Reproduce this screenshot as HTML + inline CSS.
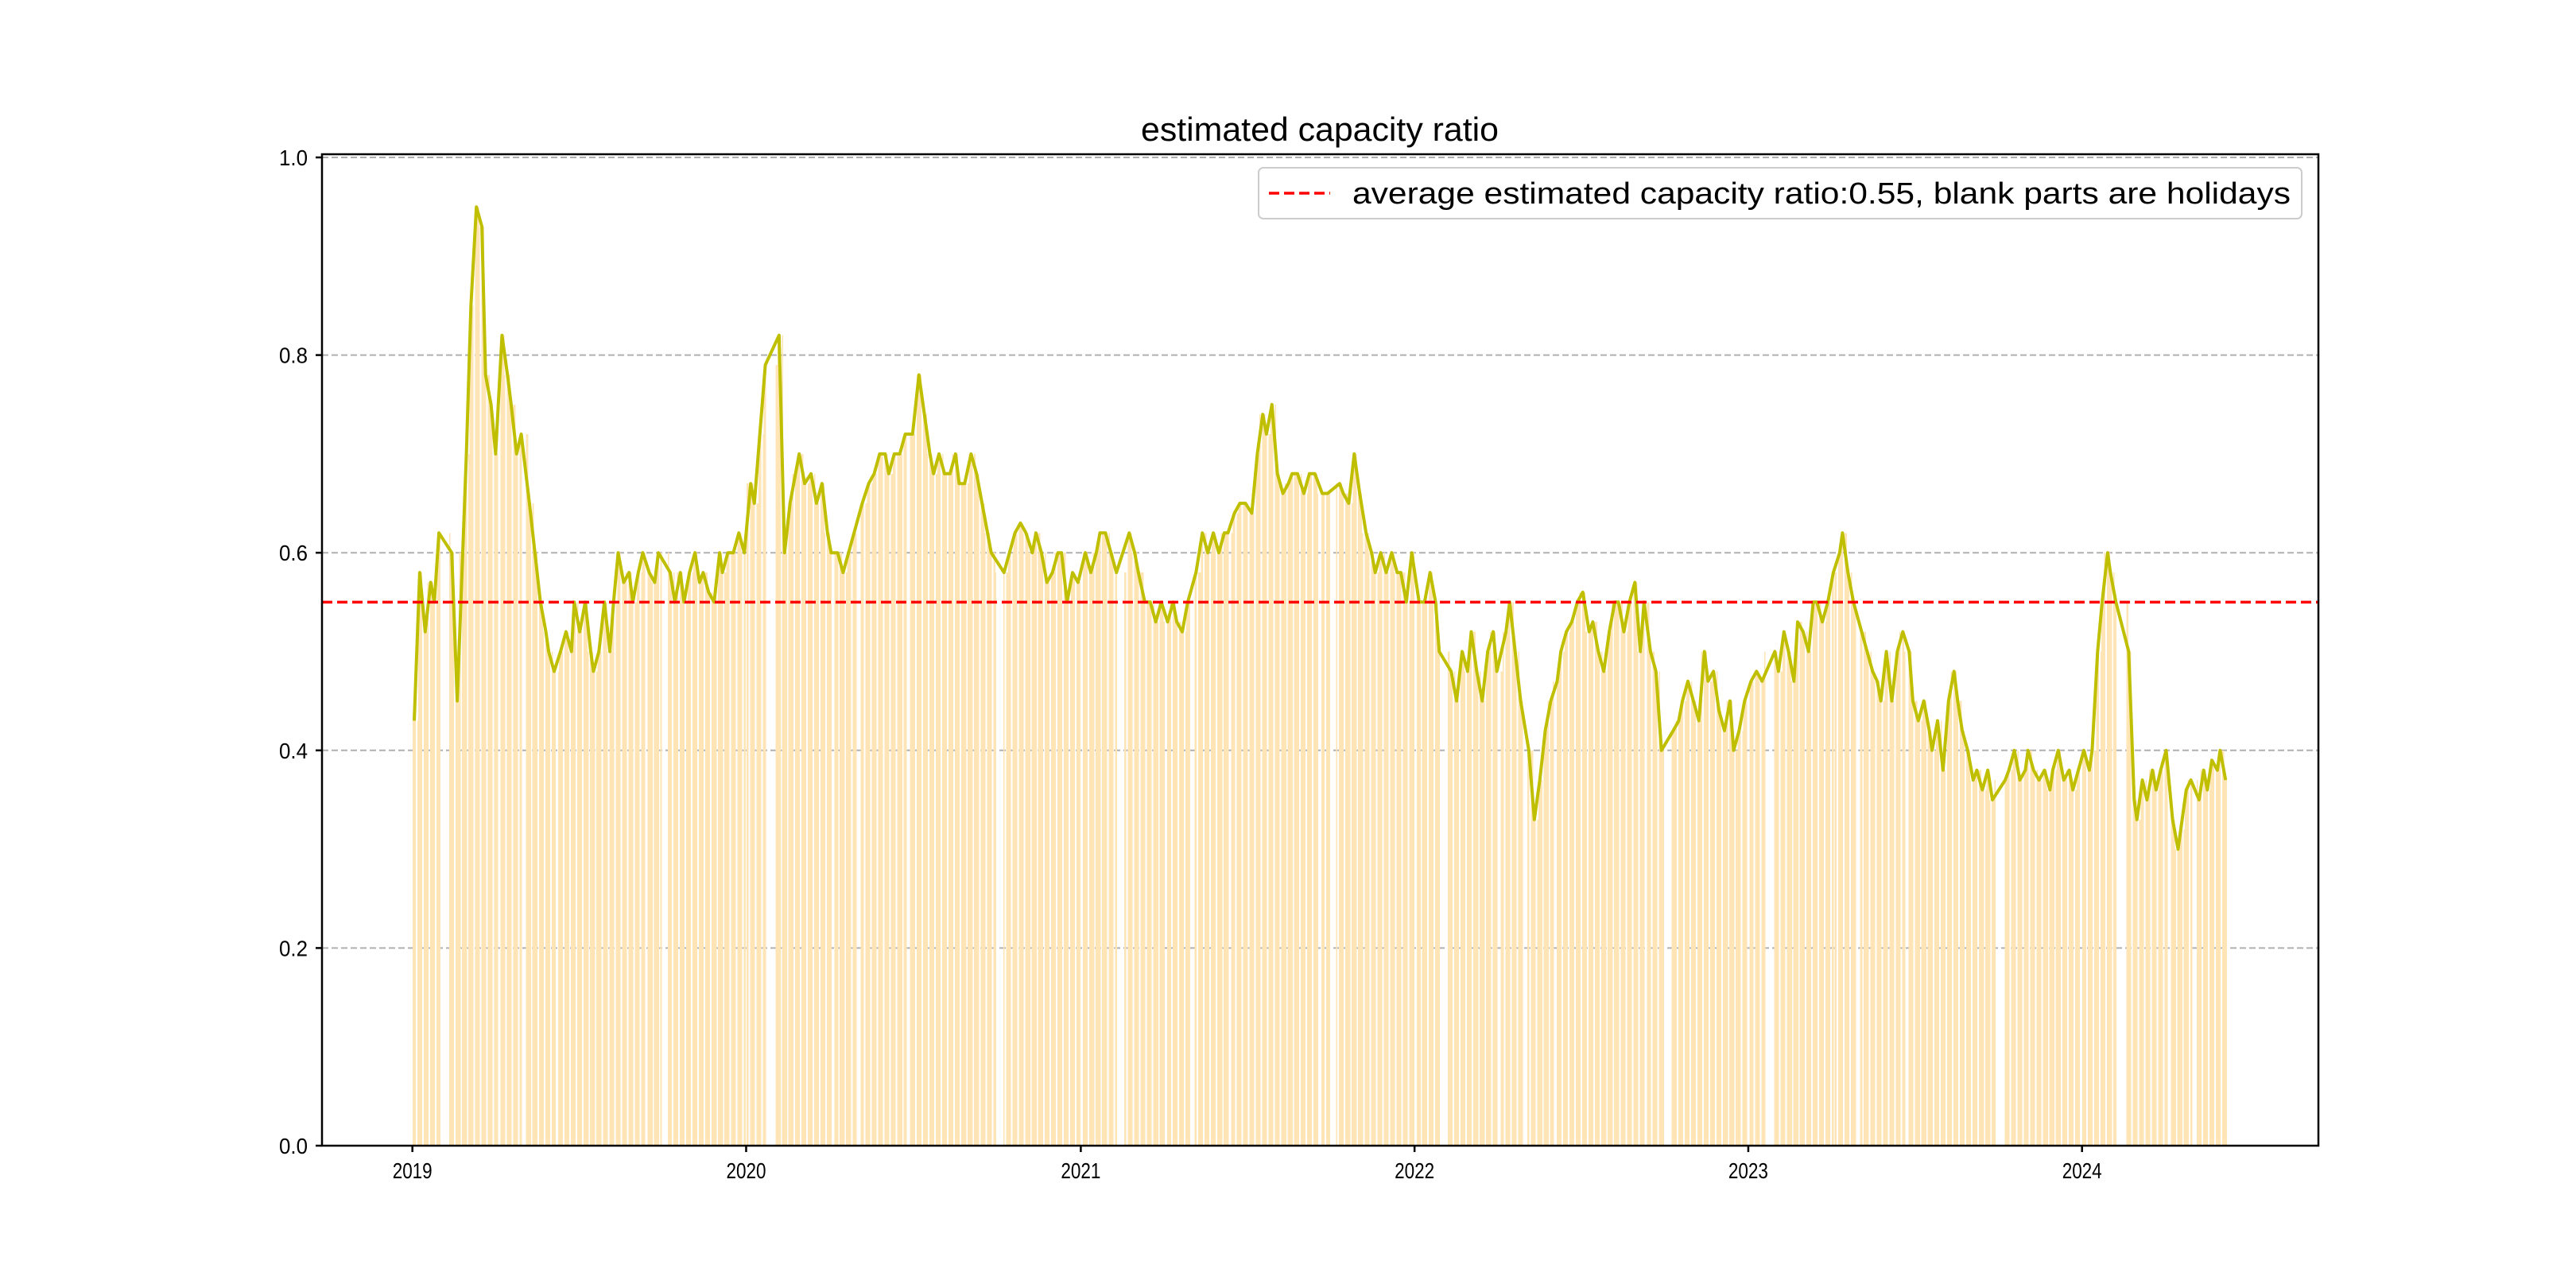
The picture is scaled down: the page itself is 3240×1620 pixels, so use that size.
<!DOCTYPE html>
<html><head><meta charset="utf-8">
<style>
html,body{margin:0;padding:0;background:#fff;}
svg{display:block;}
text{font-family:"WenQuanYi Zen Hei","Liberation Sans",sans-serif;fill:#000;}
</style></head>
<body>
<svg id="chart" width="3240" height="1620" viewBox="0 0 3240 1620" xmlns="http://www.w3.org/2000/svg">
  <rect x="0" y="0" width="3240" height="1620" fill="#fff"/>
  <g id="grid"></g>
  <g id="bars" shape-rendering="crispEdges"></g>
  <g id="lines"></g>
  <rect x="405" y="194" width="2511" height="1247" fill="none" stroke="#000" stroke-width="2.5"/>
  <g id="axes"></g>
  <text x="1660" y="177" font-size="42" text-anchor="middle" textLength="450" lengthAdjust="spacingAndGlyphs">estimated capacity ratio</text>
  <g>
    <rect x="1583" y="211" width="1312" height="64" rx="6" fill="#fff" fill-opacity="0.85" stroke="#cccccc" stroke-width="2"/>
    <line x1="1596" y1="243" x2="1673" y2="243" stroke="#ff0000" stroke-width="3.5" stroke-dasharray="13,6"/>
    <text x="1701" y="256" font-size="38" textLength="1180" lengthAdjust="spacingAndGlyphs">average estimated capacity ratio:0.55, blank parts are holidays</text>
  </g>
</svg>
<script>
const yTicks = [0, 0.2, 0.4, 0.6, 0.8, 1.0];
const yTickLabels = ["0.0", "0.2", "0.4", "0.6", "0.8", "1.0"];
const xTickYears = [2019, 2020, 2021, 2022, 2023, 2024];
const averageRatio = 0.55;
const startDate = "2019-01-02";
const endDate = "2024-06-07";
const holidays = [
  ["2019-02-01","2019-02-10"],["2019-04-05","2019-04-05"],["2019-05-01","2019-05-03"],["2019-06-07","2019-06-07"],["2019-09-13","2019-09-13"],["2019-10-01","2019-10-07"],
  ["2020-01-01","2020-01-01"],["2020-01-23","2020-02-02"],["2020-04-06","2020-04-06"],["2020-05-01","2020-05-05"],["2020-06-25","2020-06-26"],["2020-10-01","2020-10-08"],
  ["2021-01-01","2021-01-01"],["2021-02-10","2021-02-17"],["2021-04-05","2021-04-05"],["2021-05-03","2021-05-05"],["2021-06-14","2021-06-14"],["2021-09-20","2021-09-21"],["2021-10-01","2021-10-07"],
  ["2022-01-03","2022-01-03"],["2022-01-31","2022-02-04"],["2022-04-04","2022-04-05"],["2022-05-02","2022-05-04"],["2022-06-03","2022-06-03"],["2022-09-12","2022-09-12"],["2022-10-03","2022-10-07"],
  ["2023-01-02","2023-01-02"],["2023-01-20","2023-01-27"],["2023-04-05","2023-04-05"],["2023-05-01","2023-05-03"],["2023-06-22","2023-06-23"],["2023-09-29","2023-10-06"],
  ["2024-01-01","2024-01-01"],["2024-02-08","2024-02-16"],["2024-04-04","2024-04-05"],["2024-05-01","2024-05-03"]
];
const values2019 = [0.43,0.58,0.52,0.57,0.55,0.62,0.6,0.45,0.6,0.7,0.85,0.95,0.93,0.78,0.75,0.7,0.82,0.78,0.75,0.7,0.72,0.65,0.6,0.55,0.52,0.5,0.48,0.5,0.52,0.5,0.55,0.52,0.55,0.5,0.48,0.5,0.55,0.5,0.55,0.6,0.57,0.58,0.55,0.58,0.6,0.58,0.57,0.6,0.58,0.55,0.58,0.55,0.58,0.6,0.57,0.58,0.56,0.55,0.6,0.58,0.6,0.6,0.62,0.6];
const values2020 = [0.67,0.65,0.72,0.79,0.82,0.6,0.65,0.68,0.7,0.67,0.68,0.65,0.67,0.62,0.6,0.6,0.58,0.6,0.62,0.65,0.67,0.68,0.7,0.7,0.68,0.7,0.7,0.72,0.72,0.78,0.74,0.7,0.68,0.7,0.68,0.68,0.7,0.67,0.67,0.7,0.68,0.65,0.62,0.6,0.58,0.6,0.62,0.63,0.62,0.6,0.62,0.6,0.57,0.58,0.6,0.6,0.55,0.58,0.57];
const values2021 = [0.6,0.58,0.6,0.62,0.62,0.6,0.58,0.62,0.6,0.58,0.55,0.55,0.53,0.55,0.53,0.55,0.53,0.52,0.55,0.58,0.62,0.6,0.62,0.6,0.62,0.62,0.64,0.65,0.65,0.64,0.7,0.74,0.72,0.75,0.68,0.66,0.67,0.68,0.68,0.66,0.68,0.68,0.66,0.66,0.67,0.66,0.65,0.7,0.66,0.62,0.6,0.58,0.6,0.58,0.6,0.58,0.58,0.55,0.6];
const values2022 = [0.55,0.55,0.58,0.55,0.5,0.48,0.45,0.5,0.48,0.52,0.48,0.45,0.5,0.52,0.48,0.52,0.55,0.5,0.45,0.4,0.33,0.37,0.42,0.45,0.47,0.5,0.52,0.53,0.55,0.56,0.52,0.53,0.5,0.48,0.52,0.55,0.55,0.52,0.55,0.57,0.5,0.55,0.5,0.48,0.4,0.42,0.43,0.45,0.47,0.45,0.43,0.5,0.47,0.48,0.44,0.42,0.45,0.4,0.42,0.45];
const values2023 = [0.47,0.48,0.47,0.5,0.48,0.52,0.5,0.47,0.53,0.52,0.5,0.55,0.55,0.53,0.55,0.58,0.6,0.62,0.58,0.55,0.52,0.5,0.48,0.47,0.45,0.5,0.45,0.5,0.52,0.5,0.45,0.43,0.45,0.42,0.4,0.43,0.38,0.45,0.48,0.45,0.42,0.4,0.37,0.38,0.36,0.38,0.35,0.37,0.38,0.4,0.37,0.38,0.4,0.38,0.37,0.38,0.36,0.38,0.4,0.37,0.38,0.36,0.38];
const values2024 = [0.4,0.38,0.4,0.5,0.55,0.6,0.58,0.55,0.5,0.35,0.33,0.37,0.35,0.38,0.36,0.38,0.4,0.33,0.3,0.32,0.36,0.37,0.35,0.38,0.36,0.39,0.38,0.4,0.37];
const yearValues = {2019: values2019, 2020: values2020, 2021: values2021, 2022: values2022, 2023: values2023, 2024: values2024};

const NS = "http://www.w3.org/2000/svg";
const L = 405, R = 2916, T = 194, B = 1441;
const DAY = 86400000;
const origin = Date.UTC(2019, 0, 1);
const x0 = 518.7, pxPerDay = 2100 / 1826;
function xScale(t) { return x0 + (t - origin) / DAY * pxPerDay; }
function yScale(v) { return B - v * 1243; }
function parse(s) { const p = s.split("-").map(Number); return Date.UTC(p[0], p[1]-1, p[2]); }
function mk(tag, attrs, parent) {
  const e = document.createElementNS(NS, tag);
  for (const k in attrs) e.setAttribute(k, attrs[k]);
  parent.appendChild(e);
  return e;
}

const grid = document.getElementById("grid");
const axes = document.getElementById("axes");
yTicks.forEach((v, i) => {
  const y = yScale(v);
  const g = mk("line", {x1: L, x2: R, y1: y, y2: y, stroke: "#b0b0b0", "stroke-width": 2, "stroke-dasharray": "8,4"}, grid);
  
  
  const tk = mk("line", {x1: L - 8, x2: L, y1: y, y2: y, stroke: "#000", "stroke-width": 2.5}, axes);
  
  
  const tx = mk("text", {x: 387, y: y + 10, "font-size": 28, "text-anchor": "end", textLength: 36, lengthAdjust: "spacingAndGlyphs"}, axes);
  tx.textContent = yTickLabels[i];
  
  
});
xTickYears.forEach(yr => {
  const x = xScale(Date.UTC(yr, 0, 1));
  const tk = mk("line", {x1: x, x2: x, y1: B, y2: B + 8, stroke: "#000", "stroke-width": 2.5}, axes);
  
  
  const tx = mk("text", {x: x, y: B + 41, "font-size": 28, "text-anchor": "middle", textLength: 50, lengthAdjust: "spacingAndGlyphs"}, axes);
  tx.textContent = String(yr);
  
  
});

const hol = holidays.map(h => [parse(h[0]), parse(h[1])]);
const days = {};
for (let t = parse(startDate); t <= parse(endDate); t += DAY) {
  const wd = new Date(t).getUTCDay();
  if (wd === 0 || wd === 6) continue;
  if (hol.some(h => t >= h[0] && t <= h[1])) continue;
  const yr = new Date(t).getUTCFullYear();
  (days[yr] = days[yr] || []).push(t);
}

const barsG = document.getElementById("bars");
const linesG = document.getElementById("lines");
const pts = [];
Object.keys(yearValues).forEach(yr => {
  const vals = yearValues[yr];
  const d = days[yr] || [];
  const n = d.length;
  d.forEach((t, i) => {
    const k = Math.min(vals.length - 1, Math.floor(i * vals.length / n));
    const v = vals[k];
    const b = mk("rect", {x: xScale(t) - pxPerDay / 2 - 0.2, y: yScale(v), width: pxPerDay + 0.4, height: B - yScale(v), fill: "#ffe4b5"}, barsG);
    
    
  });
  vals.forEach((v, k) => {
    const idx = Math.min(n - 1, Math.floor((k + 0.5) * n / vals.length));
    pts.push([xScale(d[idx]), yScale(v)]);
  });
});
const line = mk("polyline", {points: pts.map(p => p[0].toFixed(1) + "," + p[1].toFixed(1)).join(" "), fill: "none", stroke: "#bfbf00", "stroke-width": 4, "stroke-linejoin": "round"}, linesG);


const avg = mk("line", {x1: L, x2: R, y1: yScale(averageRatio), y2: yScale(averageRatio), stroke: "#ff0000", "stroke-width": 3.5, "stroke-dasharray": "13,6"}, linesG);


</script>
</body></html>
